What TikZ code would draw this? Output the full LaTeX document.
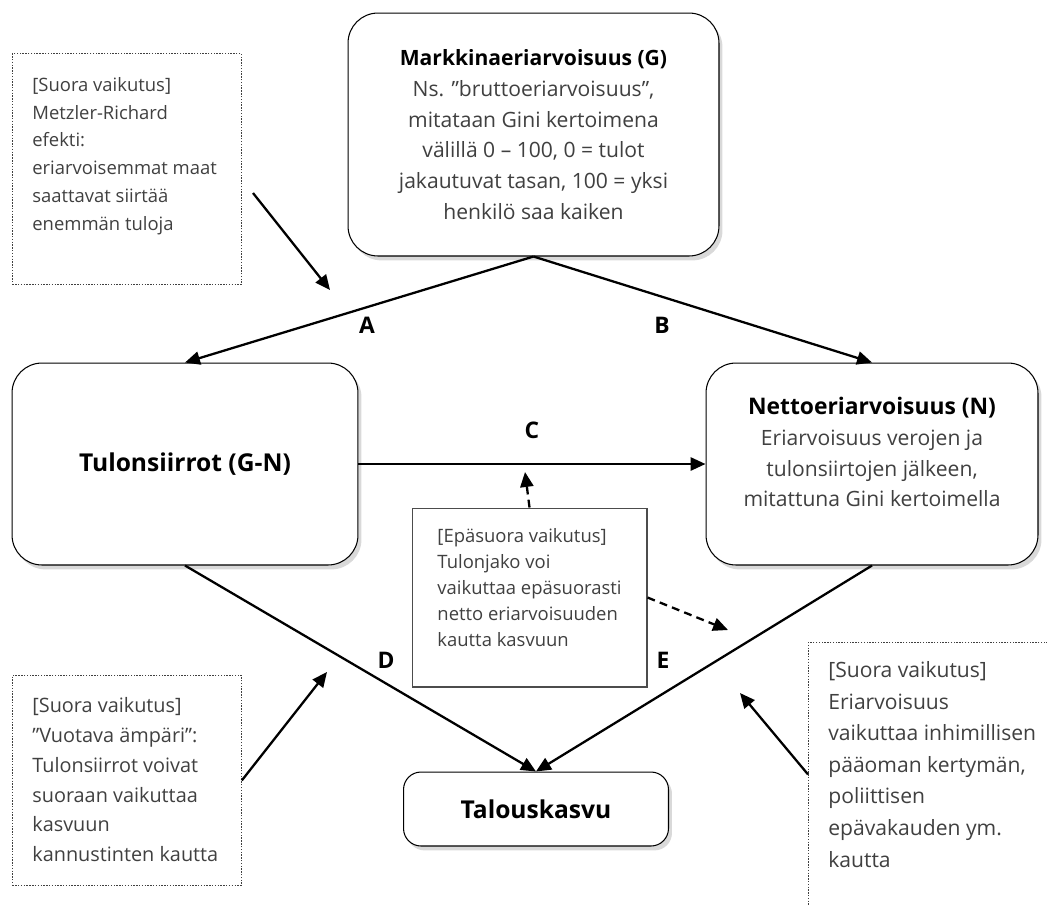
\documentclass[tikz,border=0pt]{standalone}
\usepackage{fontspec}
\setmainfont{Open Sans}
\usepackage{tikz}
\usetikzlibrary{calc}
\usetikzlibrary{shapes,arrows.meta,shadows,positioning}

\begin{document}
\begin{tikzpicture}[x=0.02cm, y=-0.02cm, text=black,
	>={Triangle[length=8.5pt,width=7.5pt]},
	mainbox/.style={draw, line width=0.6pt, fill=white, rounded corners=0.6cm, align=center,
		text=black!75, font=\fontsize{12}{17.5}\selectfont,
		drop shadow={shadow xshift=2pt, shadow yshift=-2.5pt, opacity=0.3}},
	notebox/.style={draw=black!75, line width=0.5pt, dash pattern=on 0.8pt off 0.8pt, anchor=north west, inner sep=0pt},
	notetext/.style={anchor=north west, align=left, inner sep=0pt, text=black!75},
	conn/.style={line width=1.3pt},
	lbl/.style={font=\bfseries\fontsize{13}{15}\selectfont}]
\useasboundingbox (0,0) rectangle (1047,904);

%Main boxes
\node[mainbox, minimum width=7.42cm, minimum height=4.86cm] (gross) at (533.5,134.5) {\textcolor{black}{\textbf{Markkinaeriarvoisuus (G)}}\\ Ns. ”bruttoeriarvoisuus”,\\ mitataan Gini kertoimena\\ välillä 0 – 100, 0 = tulot\\ jakautuvat tasan, 100 = yksi\\ henkilö saa kaiken};
\node[mainbox, minimum width=6.92cm, minimum height=4.04cm] (trans) at (185,464) {\textcolor{black}{\fontsize{14}{17}\selectfont\textbf{Tulonsiirrot (G-N)}}};
\node[mainbox, text depth=13.6pt, minimum width=6.64cm, minimum height=4.04cm] (net) at (872,464) {\textcolor{black}{\fontsize{13}{17}\selectfont\textbf{Nettoeriarvoisuus (N)}}\\ Eriarvoisuus verojen ja\\ tulonsiirtojen jälkeen,\\ mitattuna Gini kertoimella};
\node[mainbox, rounded corners=0.35cm, minimum width=5.3cm, minimum height=1.48cm] (growth) at (536,809) {\textcolor{black}{\fontsize{14}{17}\selectfont\textbf{Talouskasvu}}};

%Arrows between the boxes
\draw[conn, ->] (gross.south) -- (trans.north);
\draw[conn, ->] (gross.south) -- (net.north);
\draw[conn, ->] (trans) -- (net);
\draw[conn, ->] (trans.south) -- (growth.north);
\draw[conn, ->] (net.south) -- (growth.north);

\node[lbl] (labA) at (367,325) {A};
\node[lbl] (labB) at (662,325) {B};
\node[lbl] (labC) at (532,430) {C};
\node[lbl] (labD) at (386,660) {D};
\node[lbl] (labE) at (663,660) {E};

%Indirect effect
\node[draw=black!70, line width=0.6pt, fill=white, align=left, text depth=11.3pt, minimum width=4.7cm, minimum height=3.58cm, text=black!75, font=\fontsize{10.5}{14.8}\selectfont] (jako) at (529.5,597.5) {[Epäsuora vaikutus]\\ Tulonjako voi\\ vaikuttaa epäsuorasti\\ netto eriarvoisuuden\\ kautta kasvuun};
\coordinate (cTip) at (525,472);
\coordinate (eTip) at (728,630);
\draw[conn, dash pattern=on 4.5pt off 3pt, ->] (jako.north) -- (cTip);
\draw[conn, dash pattern=on 4.5pt off 3pt, ->] (jako.east) -- (eTip);

%Direct effects (notes)
\node[notebox, minimum width=4.58cm, minimum height=4.62cm] (noteA) at (12,53) {};
\node[notetext, font=\fontsize{10.5}{15.8}\selectfont] (noteAtxt) at ($(noteA.north west)+(20,24)$) {[Suora vaikutus]\\ Metzler-Richard\\ efekti:\\ eriarvoisemmat maat\\ saattavat siirtää\\ enemmän tuloja};
\node[notebox, minimum width=4.58cm, minimum height=4.2cm] (noteD) at (12,675) {};
\node[notetext, font=\fontsize{11.3}{17}\selectfont] (noteDtxt) at ($(noteD.north west)+(20,22)$) {[Suora vaikutus]\\ ”Vuotava ämpäri”:\\ Tulonsiirrot voivat\\ suoraan vaikuttaa\\ kasvuun\\ kannustinten kautta};
\node[notebox, minimum width=5.04cm, minimum height=5.28cm] (noteE) at (808,642) {};
\node[notetext, font=\fontsize{12}{18}\selectfont] (noteEtxt) at ($(noteE.north west)+(20,19)$) {[Suora vaikutus]\\ Eriarvoisuus\\ vaikuttaa inhimillisen\\ pääoman kertymän,\\ poliittisen\\ epävakauden ym.\\ kautta};

\coordinate (aStart) at (253,193);
\coordinate (aTip) at (330,290);
\coordinate (dTip) at (327,672);
\coordinate (eNoteTip) at (740,693);
\draw[conn, ->] (aStart) -- (aTip);
\draw[conn, ->] (noteD.east) -- (dTip);
\draw[conn, ->] (noteE.west) -- (eNoteTip);

\end{tikzpicture}
\end{document}
